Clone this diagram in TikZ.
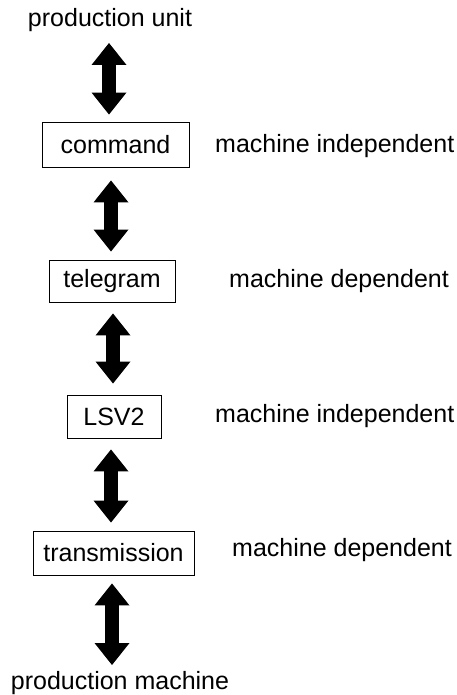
\documentclass[tikz,border=0pt]{standalone}
\usepackage{fontspec}
\setmainfont{Liberation Sans}
\usetikzlibrary{arrows.meta}
\begin{document}
\begin{tikzpicture}[x=1pt,y=-1pt,
  lbl/.style={font=\fontsize{25}{28}\selectfont, inner sep=0pt},
  box/.style={draw, line width=0.9pt, font=\fontsize{25}{28}\selectfont, inner sep=0pt},
  bigarrow/.style={line width=14pt,
    {Triangle[width=35pt,length=22pt,line width=0pt]}-{Triangle[width=35pt,length=22pt,line width=0pt]}}]
\useasboundingbox (0,0) rectangle (456,695);
% end texts
\node[lbl, anchor=base] (pu) at (110,27) {production unit};
\node[lbl, anchor=base] (pm) at (120,689) {production machine};
% boxes
\node[box, minimum width=147pt, minimum height=45pt] (cmd) at (115.5,144.5) {command};
\node[box, minimum width=126pt, minimum height=42pt] (tel) at (112,281) {telegram};
\node[box, minimum width=94pt, minimum height=43pt] (lsv) at (114,416.5) {LSV2};
\node[box, minimum width=161pt, minimum height=44pt] (trn) at (113.5,553) {transmission};
% side labels
\node[lbl, anchor=base west] (mi1) at (215,153) {machine independent};
\node[lbl, anchor=base west] (md1) at (229,287) {machine dependent};
\node[lbl, anchor=base west] (mi2) at (215,422) {machine independent};
\node[lbl, anchor=base west] (md2) at (232,556) {machine dependent};
% arrows
\draw[bigarrow] ([shift={(-1,16)}]pu.base) -- ([shift={(-6.5,-7)}]cmd.north);
\draw[bigarrow] ([shift={(-4.5,13)}]cmd.south) -- ([shift={(-1,-8)}]tel.north);
\draw[bigarrow] ([shift={(1,11)}]tel.south) -- ([shift={(-1,-11)}]lsv.north);
\draw[bigarrow] ([shift={(-3,11)}]lsv.south) -- ([shift={(-2.5,-8)}]trn.north);
\draw[bigarrow] ([shift={(-1.5,8)}]trn.south) -- ([shift={(-8,-24)}]pm.base);
\end{tikzpicture}
\end{document}
